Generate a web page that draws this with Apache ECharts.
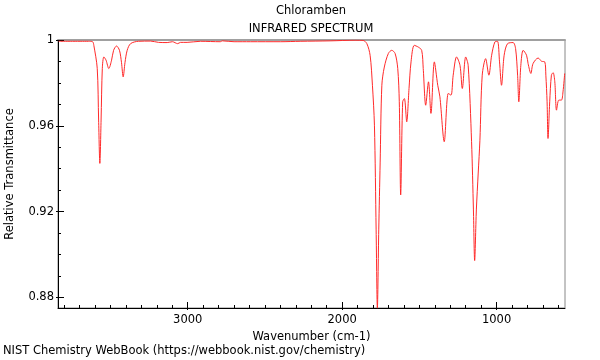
<!DOCTYPE html>
<html>
<head>
<meta charset="utf-8">
<script src="https://cdn.jsdelivr.net/npm/echarts@6/dist/echarts.min.js"></script>
<style>html,body{margin:0;padding:0;background:#fff;}#c{width:600px;height:360px;}</style>
</head>
<body>
<div id="c"></div>
<script>
var titleText = 'Chloramben';
var subtitleText = 'INFRARED SPECTRUM';
var xName = 'Wavenumber (cm-1)';
var yName = 'Relative Transmittance';
var footer = 'NIST Chemistry WebBook (https://webbook.nist.gov/chemistry)';

var xMajorTicks = [1000, 2000, 3000];
var xMinorTicks = [600,700,800,900,1000,1100,1200,1300,1400,1500,1600,1700,1800,1900,2000,2100,2200,2300,2400,2500,2600,2700,2800,2900,3000,3100,3200,3300,3400,3500,3600,3700,3800];
var yMajorTicks = [0.88, 0.92, 0.96, 1.0];
var yMinorTicks = [0.88,0.89,0.90,0.91,0.92,0.93,0.94,0.95,0.96,0.97,0.98,0.99,1.0];

var wavenumber = [3836,3642,3616,3608,3586,3577,3569,3561,3553,3543,3529,3511,3493,3480,3461,3442,3429,3418,3406,3392,3370,3319,3241,3189,3133,3099,3065,3047,3004,2918,2789,2776,2700,2595,2401,2272,2078,1916,1864,1840,1819,1804,1791,1780,1772,1763,1754,1743,1727,1701,1679,1657,1640,1630,1621,1608,1597,1582,1567,1554,1533,1507,1485,1475,1459,1441,1425,1403,1381,1367,1339,1313,1295,1281,1259,1237,1222,1200,1184,1162,1150,1142,1131,1119,1108,1093,1071,1050,1032,1011,994,981,968,951,929,893,877,864,856,843,828,806,796,778,764,731,709,688,681,673,667,656,645,634,623,612,597,580,570,559];
var transmittance = [0.9994,0.9994,0.9992,0.9975,0.9868,0.9627,0.9425,0.9627,0.9868,0.9921,0.9906,0.9867,0.9906,0.9952,0.9972,0.9952,0.9896,0.9828,0.9896,0.9952,0.9983,0.9994,0.9995,0.9989,0.9988,0.9992,0.9983,0.9989,0.9989,0.9994,0.9992,0.9996,0.9992,0.9992,0.9992,0.9994,0.9996,0.9999,0.9998,0.9983,0.9929,0.9789,0.9603,0.9115,0.8750,0.9115,0.9427,0.9789,0.9874,0.9937,0.9952,0.9937,0.9867,0.9712,0.9278,0.9712,0.9727,0.9619,0.9774,0.9898,0.9975,0.9967,0.9952,0.9867,0.9696,0.9805,0.9658,0.9898,0.9789,0.9735,0.9526,0.9751,0.9743,0.9836,0.9921,0.9882,0.9774,0.9921,0.9882,0.9526,0.9208,0.8972,0.9208,0.9380,0.9533,0.9836,0.9913,0.9836,0.9929,0.9991,0.9994,0.9898,0.9789,0.9929,0.9983,0.9988,0.9960,0.9836,0.9712,0.9882,0.9952,0.9929,0.9890,0.9844,0.9890,0.9916,0.9901,0.9898,0.9836,0.9712,0.9541,0.9712,0.9836,0.9848,0.9805,0.9673,0.9720,0.9720,0.9758,0.9844];

var xMin = 557, xMax = 3840, yMin = 0.8751, yMax = 1.0;

var pts = wavenumber.map(function (w, i) { return [w, transmittance[i]]; });
var FONT = 'DejaVu Sans';
var FS = 11.5;

function xAx(extra) {
  var base = {
    type: 'value', min: xMin, max: xMax, inverse: true, position: 'bottom',
    splitLine: { show: false },
    axisLine: { show: false },
    axisLabel: { show: false },
    axisTick: { show: false }
  };
  for (var k in extra) base[k] = extra[k];
  return base;
}
function yAx(extra) {
  var base = {
    type: 'value', min: yMin, max: yMax, position: 'left',
    splitLine: { show: false },
    axisLine: { show: false },
    axisLabel: { show: false },
    axisTick: { show: false }
  };
  for (var k in extra) base[k] = extra[k];
  return base;
}

var chart = echarts.init(document.getElementById('c'), null, { renderer: 'canvas' });
chart.setOption({
  animation: false,
  backgroundColor: '#fff',
  title: [
    { text: titleText, left: 311, top: 5, padding: 0, textAlign: 'center', textStyle: { fontFamily: FONT, fontSize: FS, fontWeight: 'normal', color: '#000' } },
    { text: subtitleText, left: 311, top: 23, padding: 0, textAlign: 'center', textStyle: { fontFamily: FONT, fontSize: FS, fontWeight: 'normal', color: '#000' } },
    { text: footer, left: 3, top: 345, padding: 0, textStyle: { fontFamily: FONT, fontSize: FS, fontWeight: 'normal', color: '#000' } }
  ],
  grid: { left: 58, right: 35, top: 40, bottom: 52, show: true, borderColor: '#888', borderWidth: 1, backgroundColor: 'transparent', containLabel: false, outerBoundsMode: 'none' },
  xAxis: [
    xAx({
      name: xName, nameLocation: 'middle', nameGap: 15,
      nameTextStyle: { fontFamily: FONT, fontSize: FS, color: '#000' },
      axisLine: { show: true, lineStyle: { color: '#000', width: 1 } },
      axisTick: { show: true, inside: false, length: 2, customValues: xMajorTicks, lineStyle: { color: '#000' } },
      axisLabel: { show: true, customValues: xMajorTicks, margin: 6, fontFamily: FONT, fontSize: FS, color: '#000',
        formatter: function (v) { return String(Math.round(v)); } }
    }),
    xAx({ axisTick: { show: true, inside: true, length: 6, customValues: xMajorTicks, lineStyle: { color: '#000' } } }),
    xAx({ axisTick: { show: true, inside: true, length: 3, customValues: xMinorTicks, lineStyle: { color: '#000' } } }),
    xAx({ position: 'top', axisLine: { show: true, lineStyle: { color: '#a0a0a0', width: 2 } } })
  ],
  yAxis: [
    yAx({
      name: yName, nameLocation: 'middle', nameGap: 42,
      nameTextStyle: { fontFamily: FONT, fontSize: FS, color: '#000' },
      axisLine: { show: true, lineStyle: { color: '#000', width: 1 } },
      axisTick: { show: true, inside: false, length: 2, customValues: yMajorTicks, lineStyle: { color: '#000' } },
      axisLabel: { show: true, customValues: yMajorTicks, margin: 4, fontFamily: FONT, fontSize: FS, color: '#000',
        formatter: function (v) { return Math.abs(v - 1) < 1e-9 ? '1' : v.toFixed(2); } }
    }),
    yAx({ axisTick: { show: true, inside: true, length: 6, customValues: yMajorTicks, lineStyle: { color: '#000' } } }),
    yAx({ axisTick: { show: true, inside: true, length: 3, customValues: yMinorTicks, lineStyle: { color: '#000' } } })
  ],
  series: [{
    type: 'line', data: pts, xAxisIndex: 0, yAxisIndex: 0,
    showSymbol: false, smooth: 0.3, clip: true,
    lineStyle: { color: '#ff2a2a', width: 1 }
  }]
});
</script>
</body>
</html>
